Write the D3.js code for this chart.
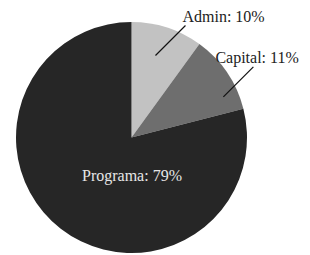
<!DOCTYPE html>
<html>
<head>
<meta charset="utf-8">
<script src="https://cdn.jsdelivr.net/npm/d3@7"></script>
<style>
  html, body { margin: 0; padding: 0; background: #fff; }
  svg { display: block; }
</style>
</head>
<body>
<svg id="chart"></svg>
<script>
// data
const categories = ["Admin", "Capital", "Programa"];
const values = [10, 11, 79];
const colors = ["#c2c2c2", "#6e6e6e", "#262626"];
// small nudges for where the leader lines start (radians)
const leaderShift = [-0.03, 0.18, 0];

const width = 310;
const height = 255;
const cx = 131.5, cy = 137.5, r = 115.5;

const svg = d3.select("#chart")
    .attr("width", width)
    .attr("height", height);

const g = svg.append("g").attr("transform", `translate(${cx},${cy})`);

const pie = d3.pie().sort(null).value(d => d.value);
const arcs = pie(categories.map((c, i) => ({ name: c, value: values[i], color: colors[i], i })));

const arc = d3.arc().innerRadius(0).outerRadius(r);

g.selectAll("path")
    .data(arcs)
    .enter()
    .append("path")
    .attr("d", arc)
    .attr("fill", d => d.data.color);

const fmt = d => `${d.data.name}: ${d.data.value}%`;

// leader lines + labels for the two small slices
const small = arcs.filter(d => d.data.value < 50);
small.forEach(d => {
    const ang = (d.startAngle + d.endAngle) / 2 + leaderShift[d.data.i];
    const rin = d.data.i === 0 ? 0.74 * r : 0.87 * r;
    const x1 = Math.sin(ang) * rin, y1 = -Math.cos(ang) * rin;
    const len = 30;
    const x2 = x1 + len, y2 = y1 - len;
    g.append("line")
        .attr("x1", x1).attr("y1", y1)
        .attr("x2", x2).attr("y2", y2)
        .attr("stroke", "#111")
        .attr("stroke-width", 1.2);
    g.append("text")
        .attr("x", d.data.i === 0 ? x2 - 3 : x2 - 38)
        .attr("y", y2 - 3.5)
        .attr("font-family", "'Liberation Serif', 'Times New Roman', serif")
        .attr("font-size", 16)
        .attr("fill", "#222")
        .text(fmt(d));
});

// big slice label
const big = arcs.filter(d => d.data.value >= 50);
g.selectAll("text.big")
    .data(big)
    .enter()
    .append("text")
    .attr("class", "big")
    .attr("x", 0.5)
    .attr("y", 0.38 * r)
    .attr("text-anchor", "middle")
    .attr("font-family", "'Liberation Serif', 'Times New Roman', serif")
    .attr("font-size", 16)
    .attr("fill", "#e6e6e6")
    .text(fmt);
</script>
</body>
</html>
